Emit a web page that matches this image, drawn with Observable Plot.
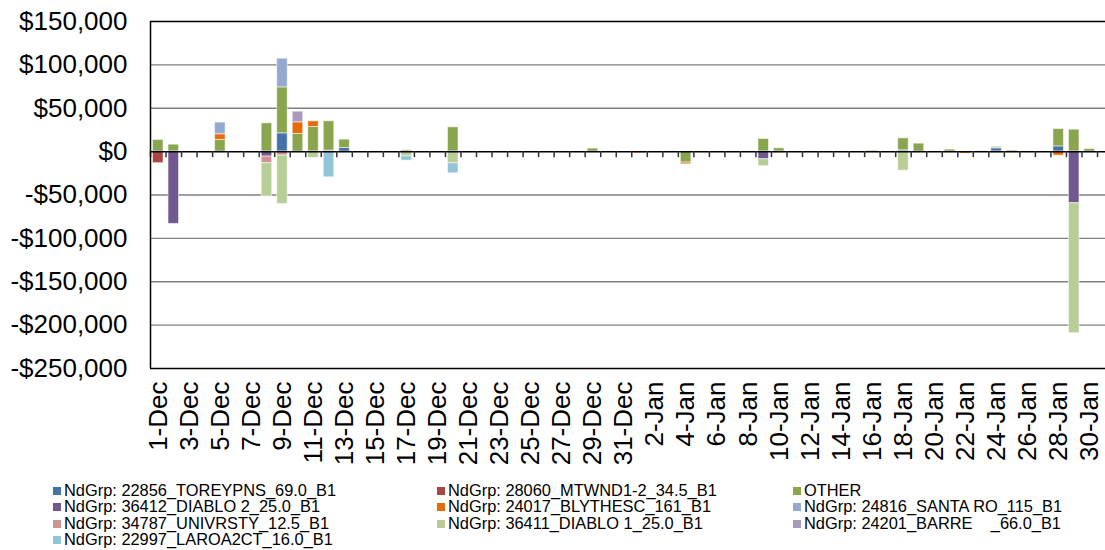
<!DOCTYPE html>
<html>
<head>
<meta charset="utf-8">
<script src="https://cdn.jsdelivr.net/npm/d3@7"></script>
<script src="https://cdn.jsdelivr.net/npm/@observablehq/plot@0.6"></script>
<style>
  html, body { margin: 0; padding: 0; background: #fff; }
  body { width: 1105px; height: 550px; overflow: hidden; font-family: "Liberation Sans", Arial, sans-serif; }
  #legend { position: relative; height: 80px; font-size: 16.4px; color: #000; }
  .item { position: absolute; white-space: pre; line-height: 16px; }
  .sw { display: inline-block; width: 8px; height: 8px; margin-right: 3px; vertical-align: 1px; }
</style>
</head>
<body>
<div id="chart"></div>
<div id="legend"></div>
<script>
const dates = ["1-Dec","2-Dec","3-Dec","4-Dec","5-Dec","6-Dec","7-Dec","8-Dec","9-Dec","10-Dec",
  "11-Dec","12-Dec","13-Dec","14-Dec","15-Dec","16-Dec","17-Dec","18-Dec","19-Dec","20-Dec",
  "21-Dec","22-Dec","23-Dec","24-Dec","25-Dec","26-Dec","27-Dec","28-Dec","29-Dec","30-Dec","31-Dec",
  "1-Jan","2-Jan","3-Jan","4-Jan","5-Jan","6-Jan","7-Jan","8-Jan","9-Jan","10-Jan",
  "11-Jan","12-Jan","13-Jan","14-Jan","15-Jan","16-Jan","17-Jan","18-Jan","19-Jan","20-Jan",
  "21-Jan","22-Jan","23-Jan","24-Jan","25-Jan","26-Jan","27-Jan","28-Jan","29-Jan","30-Jan"];

const seriesNames = [
  "NdGrp: 22856_TOREYPNS_69.0_B1",
  "NdGrp: 28060_MTWND1-2_34.5_B1",
  "OTHER",
  "NdGrp: 36412_DIABLO 2_25.0_B1",
  "NdGrp: 24017_BLYTHESC_161_B1",
  "NdGrp: 24816_SANTA RO_115_B1",
  "NdGrp: 34787_UNIVRSTY_12.5_B1",
  "NdGrp: 36411_DIABLO 1_25.0_B1",
  "NdGrp: 24201_BARRE    _66.0_B1",
  "NdGrp: 22997_LAROA2CT_16.0_B1"
];
const seriesColors = ["#4572A7","#AA4643","#89A54E","#71588F","#E46C0A","#93A9CF","#D19392","#B9CD96","#A99BBD","#92C5D8"];

const TOREYPNS = [["9-Dec",21100],["12-Dec",1200],["13-Dec",4200],["18-Jan",1500],["24-Jan",3800],["28-Jan",6100]];
const MTWND12 = [["1-Dec",-13300]];
const OTHER = [["1-Dec",13500],["2-Dec",8000],["5-Dec",13500],["8-Dec",32600],["9-Dec",53000],["10-Dec",20400],
  ["11-Dec",28400],["12-Dec",33800],["13-Dec",9600],["17-Dec",1500],["20-Dec",28000],["29-Dec",3500],
  ["4-Jan",-12700],["9-Jan",14600],["10-Jan",3800],["16-Jan",1000],["18-Jan",13800],["19-Jan",9200],
  ["21-Jan",2300],["25-Jan",1200],["28-Jan",20000],["29-Jan",25300],["30-Jan",3000]];
const DIABLO2 = [["2-Dec",-83300],["8-Dec",-5700],["9-Jan",-8800],["29-Jan",-59500]];
const BLYTHESC = [["5-Dec",6500],["10-Dec",13400],["11-Dec",6500],["1-Jan",-1800],["4-Jan",-1900],
  ["10-Jan",-1500],["22-Jan",-2300],["24-Jan",-1500],["28-Jan",-4600]];
const SANTARO = [["5-Dec",13500],["9-Dec",33000]];
const UNIVRSTY = [["8-Dec",-7700],["9-Dec",-4600]];
const DIABLO1 = [["8-Dec",-38400],["9-Dec",-55700],["11-Dec",-7300],["17-Dec",-5400],["20-Dec",-13500],
  ["9-Jan",-8000],["18-Jan",-21900],["23-Jan",800],["24-Jan",1900],["29-Jan",-149800]];
const BARRE = [["10-Dec",12300]];
const LAROA2CT = [["12-Dec",-29600],["17-Dec",-5000],["20-Dec",-11500]];

const seriesData = [TOREYPNS, MTWND12, OTHER, DIABLO2, BLYTHESC, SANTARO, UNIVRSTY, DIABLO1, BARRE, LAROA2CT];
const yTicks = [150000, 100000, 50000, 0, -50000, -100000, -150000, -200000, -250000];

const rows = [];
dates.forEach(d => {
  seriesData.forEach((s, k) => {
    s.filter(p => p[0] === d).forEach(p => rows.push({date: d, series: seriesNames[k], value: p[1]}));
  });
});

const W = 1105, H = 470;
const xLeft = 150, xRight = 1097;
const step = (xRight - xLeft) / dates.length;
const fmt = v => (v < 0 ? "-" : "") + "$" + d3.format(",")(Math.abs(v));

const chart = Plot.plot({
  width: W,
  height: H,
  marginTop: 21,
  marginBottom: 102,
  marginLeft: 150,
  marginRight: 0,
  style: {fontFamily: "'Liberation Sans', Arial, sans-serif", color: "#000", background: "#fff"},
  x: {type: "band", domain: dates, range: [xLeft, xRight], padding: 0},
  y: {domain: [-250000, 150000]},
  color: {domain: seriesNames, range: seriesColors},
  marks: [
    Plot.ruleY(yTicks.filter(t => t !== 0 && t !== 150000 && t !== -250000), {stroke: "#7f7f7f", strokeWidth: 1.3}),
    Plot.ruleY([150000, -250000], {stroke: "#000", strokeWidth: 1.3}),
    Plot.barY(rows, Plot.stackY({x: "date", y: "value", fill: "series", insetLeft: 2.5, insetRight: 2.5,
      stroke: "#fff", strokeOpacity: 0.55, strokeWidth: 1})),
    Plot.ruleY([0], {stroke: "#000", strokeWidth: 1.5}),
    Plot.ruleX(dates, {x: d => d, y1: 0, y2: 0, dx: -step / 2, insetBottom: -6, stroke: "#333", strokeWidth: 1.5}),
    Plot.ruleX([dates[dates.length - 1]], {x: d => d, y1: 0, y2: 0, dx: step / 2, insetBottom: -6, stroke: "#333", strokeWidth: 1.5}),
    Plot.ruleX([dates[0]], {x: d => d, dx: -step / 2, stroke: "#000", strokeWidth: 1.5}),
    Plot.axisY({ticks: yTicks, tickFormat: fmt, tickSize: 0, tickPadding: 23, fontSize: 26, label: null}),
    Plot.axisX({ticks: dates.filter((d, i) => i % 2 === 0), tickRotate: -90, tickSize: 0, tickPadding: 13, fontSize: 26, label: null})
  ]
});
document.getElementById("chart").appendChild(chart);

const legend = document.getElementById("legend");
const colX = [53, 437, 793];
const rowY = [12, 28, 45, 61];
seriesNames.forEach((name, i) => {
  const el = document.createElement("div");
  el.className = "item";
  el.style.left = colX[i % 3] + "px";
  el.style.top = rowY[Math.floor(i / 3)] + "px";
  const sw = document.createElement("span");
  sw.className = "sw";
  sw.style.background = seriesColors[i];
  el.appendChild(sw);
  el.appendChild(document.createTextNode(name));
  legend.appendChild(el);
});
</script>
</body>
</html>
